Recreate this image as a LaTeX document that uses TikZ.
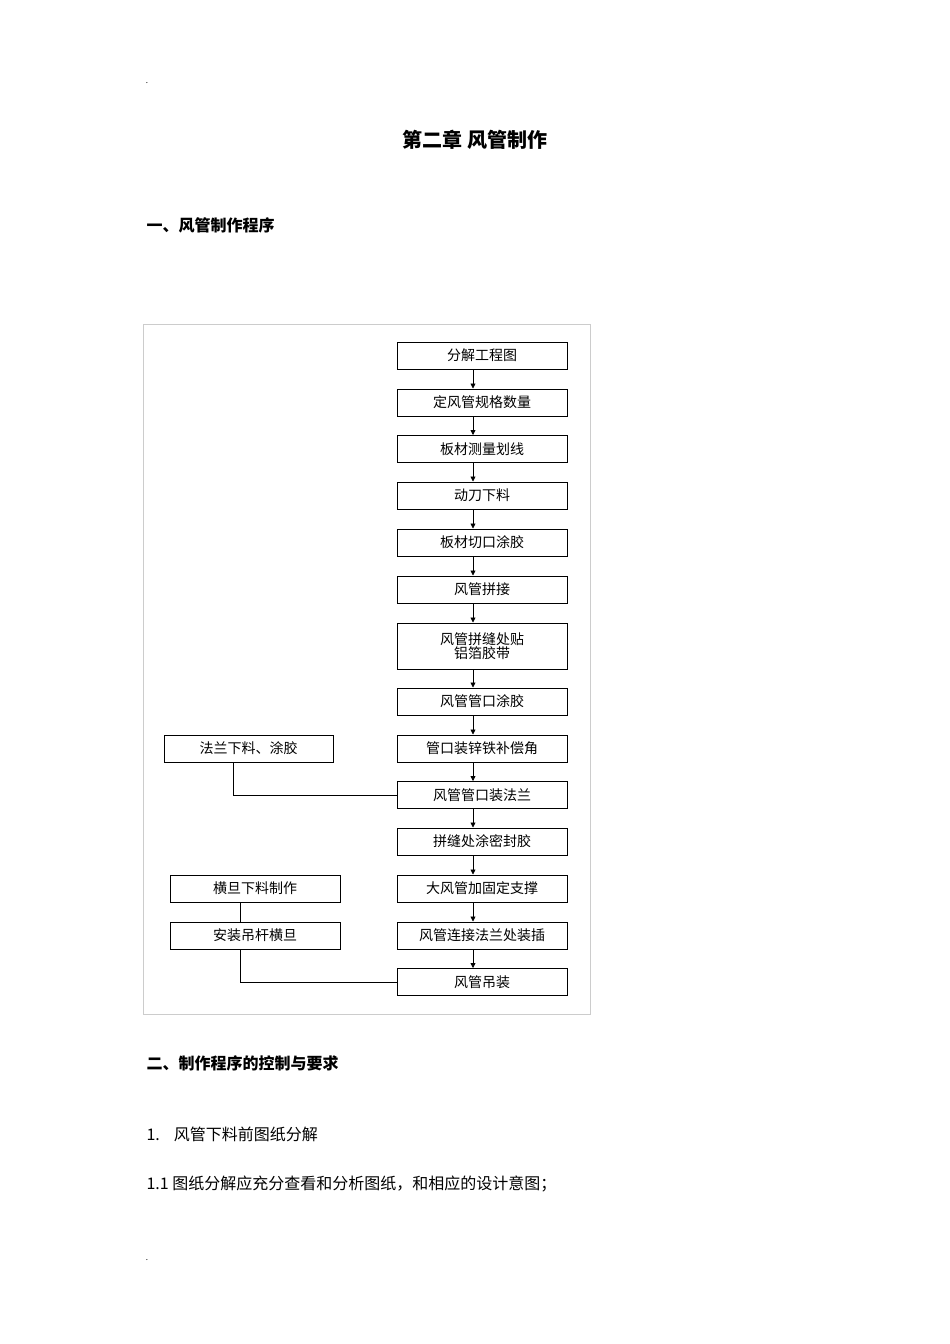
\documentclass[tikz,border=0pt]{standalone}
\usepackage{fontspec}
\setmainfont{Noto Sans CJK SC}
\newfontfamily\cjkb[BoldFont={Noto Sans CJK SC Bold}]{Noto Sans CJK SC}
\usetikzlibrary{arrows.meta}
\begin{document}
\begin{tikzpicture}[x=1pt,y=-1pt,
  bx/.style={draw,line width=1pt,minimum width=170pt,minimum height=27pt,inner sep=0pt,font=\fontsize{14}{16}\selectfont,align=center},
  ar/.style={-{Triangle[length=5pt,width=5pt]},line width=0.8pt},
  ln/.style={line width=0.8pt}]
\useasboundingbox (0,0) rectangle (950,1344);
\fill[white] (0,0) rectangle (950,1344);
\node at (147,83) {\fontsize{8}{8}\selectfont .};
\node at (147,1260) {\fontsize{8}{8}\selectfont .};
\node at (475,140) {\fontsize{20}{24}\selectfont\bfseries 第二章\ 风管制作};
\node[anchor=west] at (143,225) {\fontsize{16}{20}\selectfont\bfseries 一、风管制作程序};
\draw[gray!40,line width=0.8pt] (143,324) rectangle (590,1014);
\foreach \n/\t/\y in {a/分解工程图/355.5,b/定风管规格数量/402.5,c/板材测量划线/449,d/动刀下料/495.5,e/板材切口涂胶/542.5,f/风管拼接/589.5,h/风管管口涂胶/701.5,i/管口装锌铁补偿角/748.5,j/风管管口装法兰/795,k/拼缝处涂密封胶/841.5,l/大风管加固定支撑/888.5,m/风管连接法兰处装插/935.5,n/风管吊装/982}
  \node[bx] (\n) at (482,\y) {\t};
\node[bx,minimum height=46pt] (g) at (482,646) {风管拼缝处贴\\[-2pt]铝箔胶带};
\node[bx,minimum width=169pt] (p) at (248.5,748.5) {法兰下料、涂胶};
\node[bx] (q) at (255,888.5) {横旦下料制作};
\node[bx] (r) at (255,935.5) {安装吊杆横旦};
\foreach \u/\v in {a/b,b/c,c/d,d/e,e/f,f/g,g/h,h/i,i/j,j/k,k/l,l/m,m/n}
  \draw[ar] (\u.south -| 473,0) -- (\v.north -| 473,0);
\draw[ln] (p.south -| 233,0) |- (j.west);
\draw[ln] (q.south -| 240,0) -- (r.north -| 240,0);
\draw[ln] (r.south -| 240,0) |- (n.west);
\node[anchor=west] at (143,1063) {\fontsize{16}{20}\selectfont\bfseries 二、制作程序的控制与要求};
\node[anchor=west] at (143,1134) {\fontsize{16}{20}\selectfont 1.\hspace{14pt}风管下料前图纸分解};
\node[anchor=west] at (143,1184) {\fontsize{16}{20}\selectfont 1.1 图纸分解应充分查看和分析图纸，和相应的设计意图；};
\end{tikzpicture}
\end{document}
